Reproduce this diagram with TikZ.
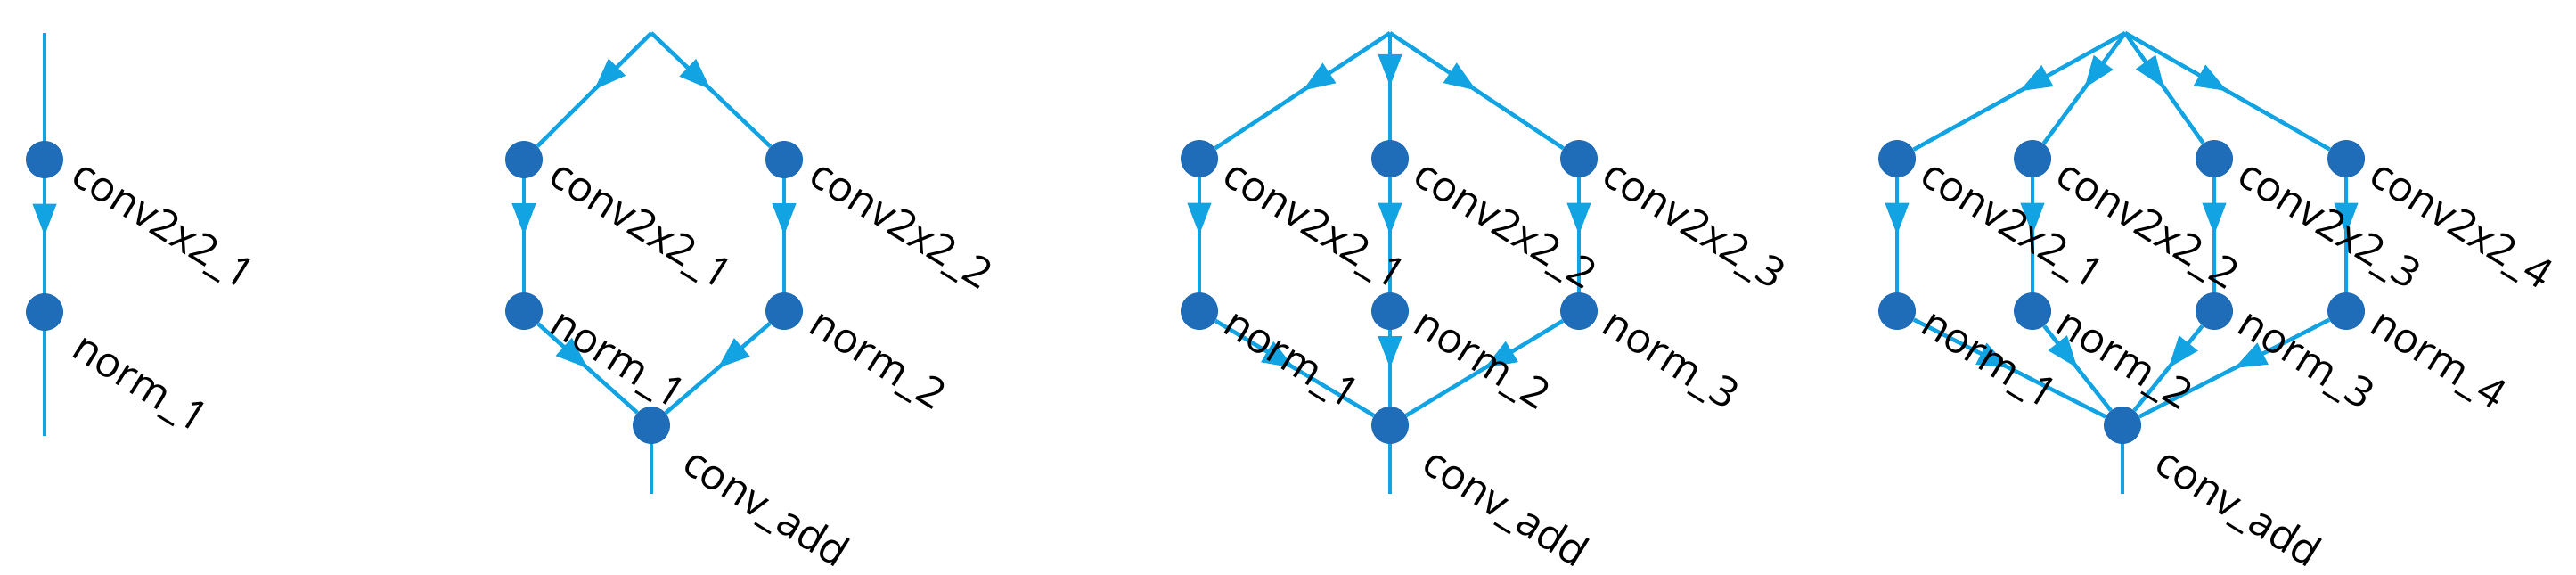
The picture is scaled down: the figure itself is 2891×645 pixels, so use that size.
\documentclass[tikz,border=0pt]{standalone}
\usepackage{fontspec}
\setmainfont{Open Sans}
\usetikzlibrary{decorations.markings,arrows.meta}
\definecolor{edge}{HTML}{12A3E3}
\definecolor{dot}{HTML}{1F6DB8}
\begin{document}
\begin{tikzpicture}[x=1pt,y=-1pt,
  pt/.style={circle,fill=dot,minimum size=42pt,inner sep=0pt},
  lab/.style={rotate=-32,anchor=north west,inner sep=0pt,text=black,font=\fontsize{47}{52}\selectfont,xshift=14pt},
  e/.style={draw=edge,line width=4.5pt,postaction={decorate},decoration={markings,mark=at position 0.5 with {\arrow[edge]{Triangle[length=36pt,width=26pt]}}}},
  ln/.style={draw=edge,line width=4.5pt}]
\useasboundingbox (0,0) rectangle (2891,645);
% panel 1
\coordinate (a0) at (50,37);
\node[pt] (a1) at (50,179) {};
\node[pt] (a2) at (50,350) {};
\coordinate (a3) at (50,489);
\draw[ln] (a0) -- (a1); \draw[e] (a1) -- (a2); \draw[ln] (a2) -- (a3);
\node[lab] at (84,168) {conv2x2\_1};
\node[lab] at (84,362) {norm\_1};
% panel 2
\coordinate (b0) at (731,37);
\node[pt] (b1) at (588,179) {};
\node[pt] (b2) at (880,179) {};
\node[pt] (b3) at (588,349) {};
\node[pt] (b4) at (880,349) {};
\node[pt] (b5) at (731,477) {};
\coordinate (b6) at (731,554);
\foreach \s/\t in {b0/b1,b0/b2,b1/b3,b2/b4,b3/b5,b4/b5}{\draw[e] (\s) -- (\t);}
\draw[ln] (b5) -- (b6);
\node[lab] at (620,168) {conv2x2\_1};
\node[lab] at (912,168) {conv2x2\_2};
\node[lab] at (620,335) {norm\_1};
\node[lab] at (912,335) {norm\_2};
\node[lab] at (770,490) {conv\_add};
% panel 3
\coordinate (c0) at (1560,37);
\node[pt] (c1) at (1346,178) {};
\node[pt] (c2) at (1560,178) {};
\node[pt] (c3) at (1772,178) {};
\node[pt] (c4) at (1346,349) {};
\node[pt] (c5) at (1560,349) {};
\node[pt] (c6) at (1772,349) {};
\node[pt] (c7) at (1560,477) {};
\coordinate (c8) at (1560,554);
\foreach \s/\t in {c0/c1,c0/c2,c0/c3,c1/c4,c2/c5,c3/c6,c4/c7,c5/c7,c6/c7}{\draw[e] (\s) -- (\t);}
\draw[ln] (c7) -- (c8);
\node[lab] at (1376,168) {conv2x2\_1};
\node[lab] at (1590,168) {conv2x2\_2};
\node[lab] at (1802,168) {conv2x2\_3};
\node[lab] at (1376,335) {norm\_1};
\node[lab] at (1590,335) {norm\_2};
\node[lab] at (1802,335) {norm\_3};
\node[lab] at (1600,490) {conv\_add};
% panel 4
\coordinate (d0) at (2385,37);
\node[pt] (d1) at (2129,178) {};
\node[pt] (d2) at (2281,178) {};
\node[pt] (d3) at (2485,178) {};
\node[pt] (d4) at (2633,178) {};
\node[pt] (d5) at (2129,349) {};
\node[pt] (d6) at (2281,349) {};
\node[pt] (d7) at (2485,349) {};
\node[pt] (d8) at (2633,349) {};
\node[pt] (d9) at (2382,477) {};
\coordinate (d10) at (2382,554);
\foreach \s/\t in {d0/d1,d0/d2,d0/d3,d0/d4,d1/d5,d2/d6,d3/d7,d4/d8,d5/d9,d6/d9,d7/d9,d8/d9}{\draw[e] (\s) -- (\t);}
\draw[ln] (d9) -- (d10);
\node[lab] at (2159,168) {conv2x2\_1};
\node[lab] at (2311,168) {conv2x2\_2};
\node[lab] at (2515,168) {conv2x2\_3};
\node[lab] at (2663,168) {conv2x2\_4};
\node[lab] at (2159,335) {norm\_1};
\node[lab] at (2311,335) {norm\_2};
\node[lab] at (2515,335) {norm\_3};
\node[lab] at (2663,335) {norm\_4};
\node[lab] at (2422,490) {conv\_add};
\end{tikzpicture}
\end{document}
